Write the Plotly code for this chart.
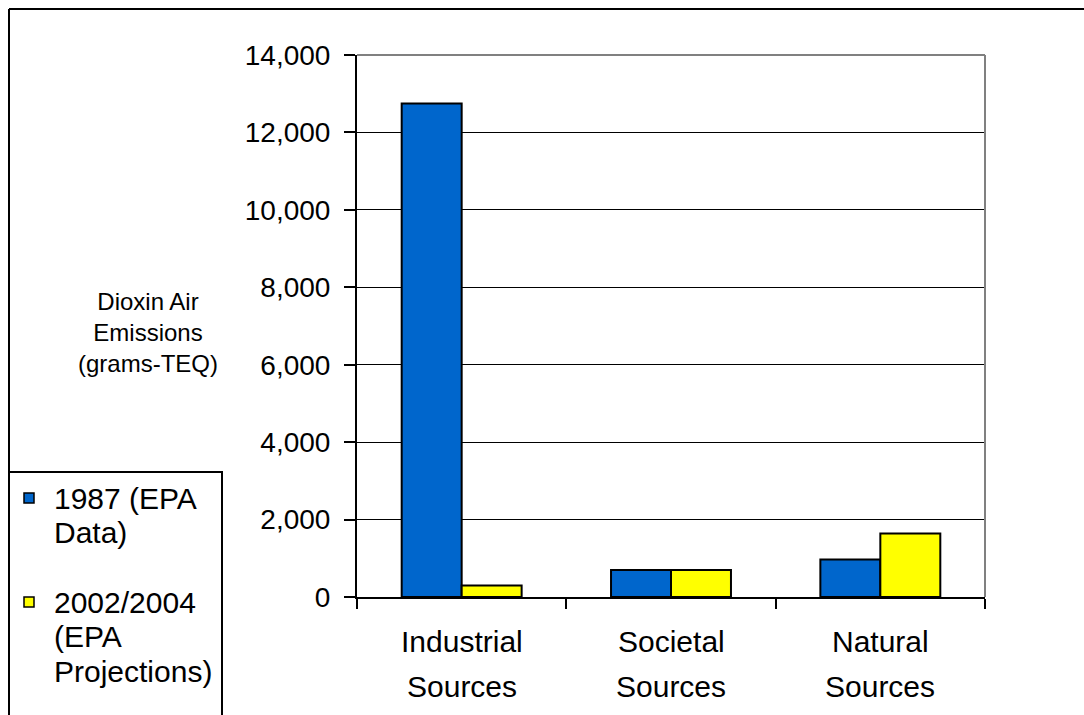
import plotly.graph_objects as go

categories = ["Industrial Sources", "Societal Sources", "Natural Sources"]
series_names = ["1987 (EPA Data)", "2002/2004 (EPA Projections)"]
legend_lines = [["1987 (EPA", "Data)"], ["2002/2004", "(EPA", "Projections)"]]
values_1987 = [12750, 700, 970]
values_2002 = [300, 700, 1640]
colors = ["#0066CC", "#FFFF00"]
y_ticks = [0, 2000, 4000, 6000, 8000, 10000, 12000, 14000]

W, H = 1084, 715
L, R, T, B = 357, 99, 55, 118
PW, PH = W - L - R, H - T - B

def px_x(x):
    return (x - L) / PW

def px_y(y):
    return 1 - (y - T) / PH

FONT = "Arial, Liberation Sans, sans-serif"

fig = go.Figure()
for name, vals, col in [(series_names[0], values_1987, colors[0]),
                        (series_names[1], values_2002, colors[1])]:
    fig.add_trace(go.Bar(
        x=categories, y=vals, name=name, showlegend=False,
        marker=dict(color=col, line=dict(color="black", width=2)),
    ))

fig.update_layout(
    width=W, height=H,
    margin=dict(l=L, r=R, t=T, b=B, pad=0),
    paper_bgcolor="white", plot_bgcolor="white",
    barmode="group", bargap=0.427, bargroupgap=0,
    font=dict(family=FONT, size=30, color="black"),
    separators=".,",
    showlegend=False,
)

fig.update_xaxes(
    showticklabels=False, showgrid=False, zeroline=False,
    showline=True, linecolor="black", linewidth=2,
    ticks="outside", tickson="boundaries", ticklen=10, tickwidth=2, tickcolor="black",
)
fig.update_yaxes(
    range=[0, 14000], tickvals=y_ticks, tickformat=",d",
    showgrid=True, gridcolor="black", gridwidth=1, zeroline=False,
    showline=True, linecolor="black", linewidth=2,
    ticks="outside", ticklen=11, tickwidth=2, tickcolor="black",
    ticklabelstandoff=8,
    tickfont=dict(size=28, family=FONT),
)

# gray plot-area border on top and right
fig.add_shape(type="line", xref="paper", yref="paper", x0=0, x1=1, y0=1, y1=1,
              line=dict(color="#808080", width=2))
fig.add_shape(type="line", xref="paper", yref="paper", x0=1, x1=1, y0=0, y1=1,
              line=dict(color="#808080", width=2))

# outer chart frame (top and left)
fig.add_shape(type="line", xref="paper", yref="paper", x0=px_x(9), x1=px_x(1084),
              y0=px_y(9), y1=px_y(9), line=dict(color="black", width=2))
fig.add_shape(type="line", xref="paper", yref="paper", x0=px_x(9), x1=px_x(9),
              y0=px_y(9), y1=px_y(715), line=dict(color="black", width=2))

# legend frame (runs off the bottom of the picture)
fig.add_shape(type="rect", xref="paper", yref="paper", x0=px_x(9), x1=px_x(222),
              y0=px_y(730), y1=px_y(472), line=dict(color="black", width=2))

# legend entries
LINE_H = 34.5
first_line_y = [498, 602]
for lines, col, y0 in zip(legend_lines, colors, first_line_y):
    fig.add_shape(type="rect", xref="paper", yref="paper",
                  x0=px_x(24), x1=px_x(34), y0=px_y(y0 + 5), y1=px_y(y0 - 5),
                  fillcolor=col, line=dict(color="black", width=1.5))
    for k, txt in enumerate(lines):
        fig.add_annotation(x=px_x(52), y=px_y(y0 + k * LINE_H), xref="paper", yref="paper",
                           text=txt, showarrow=False, xanchor="left", yanchor="middle",
                           font=dict(size=30))

# category labels (two lines each)
for cat in categories:
    first, second = cat.split(" ", 1)
    fig.add_annotation(x=cat, xref="x", yref="paper", y=px_y(641), text=first,
                       showarrow=False, yanchor="middle", font=dict(size=30))
    fig.add_annotation(x=cat, xref="x", yref="paper", y=px_y(686), text=second,
                       showarrow=False, yanchor="middle", font=dict(size=30))

# y-axis title
fig.add_annotation(x=px_x(148), y=px_y(332), xref="paper", yref="paper",
                   text="Dioxin Air<br>Emissions<br>(grams-TEQ)", showarrow=False,
                   xanchor="center", yanchor="middle", align="center",
                   font=dict(size=24))

fig.write_html("out.html")
